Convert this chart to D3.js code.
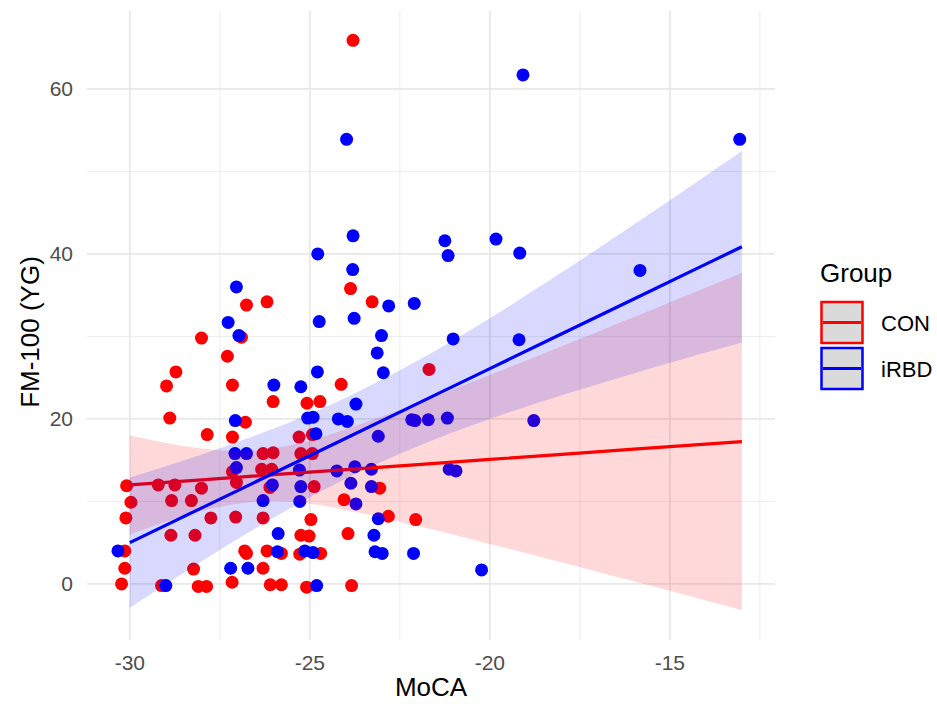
<!DOCTYPE html>
<html>
<head>
<meta charset="utf-8">
<script src="https://cdn.jsdelivr.net/npm/d3@7"></script>
<style>
  body { margin: 0; background: #fff; }
  svg { display: block; font-family: "Liberation Sans", Arial, sans-serif; }
</style>
</head>
<body>
<svg id="chart" width="937" height="704"></svg>
<script>
// scatter points (jittered)
const conMoca = [-23.80,-23.87,-23.27,-26.76,-26.19,-28.01,-26.90,-27.29,-28.72,-28.98,-27.15,-24.13,-26.02,-25.08,-24.72,-21.69,
  -28.89,-26.79,-27.85,-27.15,-25.30,-24.93,-26.30,-26.02,-25.25,-24.93,-27.15,-26.34,-26.06,-27.04,-26.11,-24.88,-23.06,
  -30.09,-29.21,-28.75,-28.01,-29.97,-28.84,-28.29,-24.05,-30.11,-27.75,-27.06,-26.30,-24.97,-22.82,-22.06,-28.86,-28.19,
  -25.25,-25.02,-23.94,-30.14,-26.81,-26.76,-26.19,-25.79,-25.28,-24.70,-30.14,-28.23,-26.30,-30.23,-29.12,-28.10,-27.87,
  -27.16,-26.10,-25.79,-25.09,-23.84];
const conFm = [65.9,35.8,34.2,33.8,34.2,29.8,29.9,27.6,25.7,24.0,24.1,24.2,22.1,21.9,22.1,26.0,
  20.1,19.6,18.1,17.8,17.8,18.1,15.8,15.9,15.8,15.8,13.6,13.9,13.9,12.3,11.7,11.8,11.6,
  11.9,12.0,12.0,11.6,9.9,10.1,10.1,10.2,8.0,8.0,8.1,8.0,7.8,8.2,7.8,5.9,5.9,
  5.9,5.8,6.1,4.0,4.0,3.7,4.0,3.7,3.6,3.7,1.9,1.8,1.9,0.0,-0.2,-0.3,-0.3,
  0.2,-0.1,-0.1,-0.4,-0.2];
const irbdMoca = [-19.08,-23.98,-13.06,-23.80,-21.25,-19.83,-24.78,-23.81,-21.16,-19.17,-15.83,-27.04,-22.81,-22.10,-27.27,
  -24.74,-23.77,-26.97,-23.01,-21.02,-19.19,-23.13,-22.96,-24.79,-26.00,-25.25,-23.72,-27.07,-25.06,-24.91,-24.21,-23.96,
  -22.17,-22.08,-21.71,-21.18,-18.78,-24.83,-23.10,-27.08,-26.76,-27.04,-25.29,-24.25,-23.75,-23.29,-21.13,-20.94,-26.04,
  -25.25,-23.86,-23.29,-26.30,-25.28,-23.72,-23.10,-25.88,-23.22,-25.90,-25.14,-24.91,-23.19,-22.99,-22.12,-30.33,-27.20,
  -26.72,-20.23,-29.00,-24.81];
const irbdFm = [61.7,53.9,53.9,42.2,41.6,41.8,40.0,38.1,39.8,40.1,38.0,36.0,33.7,34.0,31.7,
  31.8,32.2,30.1,30.1,29.7,29.6,28.0,25.6,25.7,24.1,23.9,21.8,19.8,20.1,20.2,20.0,19.7,
  19.9,19.8,19.9,20.1,19.8,18.2,17.9,15.8,15.8,14.1,13.8,13.7,14.2,13.9,13.9,13.7,12.0,
  11.8,12.2,11.8,10.1,10.0,9.7,7.9,6.1,5.9,3.9,4.0,3.8,3.9,3.7,3.7,4.0,1.9,
  1.9,1.7,-0.2,-0.2];

// linear fits with 95% bands
const fitX = [-30,-28,-26,-24,-22,-20,-18,-16,-14,-13];
const conFit = [12.0,12.62,13.24,13.85,14.47,15.09,15.71,16.33,16.94,17.25];
const conLo = [6.0,8.84,10.04,8.95,7.02,4.85,2.60,0.31,-2.02,-3.18];
const conHi = [18.0,16.40,16.44,18.75,21.92,25.33,28.82,32.35,35.90,37.68];
const irbdFit = [5.0,9.22,13.44,17.66,21.88,26.1,30.32,34.54,38.76,40.87];
const irbdLo = [-2.9,2.74,8.04,12.74,16.69,19.99,22.87,25.52,28.04,29.27];
const irbdHi = [12.9,15.70,18.84,22.58,27.07,32.21,37.77,43.56,49.48,52.47];

const xTicks = [-30,-25,-20,-15];
const xMinor = [-27.5,-22.5,-17.5,-12.5];
const yTicks = [0,20,40,60];
const yMinor = [10,30,50];
const groups = ["CON","iRBD"];
const colors = {CON: "#ff0000", iRBD: "#0000ff"};

const svg = d3.select("#chart");
const x = d3.scaleLinear().domain([-31.19, -12.08]).range([87, 775]);
const y = d3.scaleLinear().domain([-6.8, 69.5]).range([640, 10.6]);

// grid
const grid = svg.append("g");
grid.selectAll(".xmin").data(xMinor).join("line")
  .attr("x1", d => x(d)).attr("x2", d => x(d)).attr("y1", 10.6).attr("y2", 640)
  .attr("stroke", "#ebebeb").attr("stroke-width", 0.9);
grid.selectAll(".ymin").data(yMinor).join("line")
  .attr("x1", 87).attr("x2", 775).attr("y1", d => y(d)).attr("y2", d => y(d))
  .attr("stroke", "#ebebeb").attr("stroke-width", 0.9);
grid.selectAll(".xmaj").data(xTicks).join("line")
  .attr("x1", d => x(d)).attr("x2", d => x(d)).attr("y1", 10.6).attr("y2", 640)
  .attr("stroke", "#e8e8e8").attr("stroke-width", 1.8);
grid.selectAll(".ymaj").data(yTicks).join("line")
  .attr("x1", 87).attr("x2", 775).attr("y1", d => y(d)).attr("y2", d => y(d))
  .attr("stroke", "#e8e8e8").attr("stroke-width", 1.8);

// tick labels
svg.selectAll(".xl").data(xTicks).join("text")
  .attr("x", d => x(d)).attr("y", 670).attr("text-anchor", "middle")
  .attr("font-size", 21).attr("fill", "#4d4d4d").text(d => d);
svg.selectAll(".yl").data(yTicks).join("text")
  .attr("x", 73).attr("y", d => y(d) + 7.5).attr("text-anchor", "end")
  .attr("font-size", 21).attr("fill", "#4d4d4d").text(d => d);

// points
const pts = conMoca.map((v, i) => ({g: "CON", x: v, y: conFm[i]}))
  .concat(irbdMoca.map((v, i) => ({g: "iRBD", x: v, y: irbdFm[i]})));
svg.append("g").selectAll("circle").data(pts).join("circle")
  .attr("cx", d => x(d.x)).attr("cy", d => y(d.y)).attr("r", 6.5)
  .attr("fill", d => colors[d.g]);

// smooths: ribbon then line, per group
const fits = {
  CON: fitX.map((v, i) => ({x: v, f: conFit[i], lo: conLo[i], hi: conHi[i]})),
  iRBD: fitX.map((v, i) => ({x: v, f: irbdFit[i], lo: irbdLo[i], hi: irbdHi[i]}))
};
const area = d3.area().curve(d3.curveNatural)
  .x(d => x(d.x)).y0(d => y(d.lo)).y1(d => y(d.hi));
const line = d3.line().x(d => x(d.x)).y(d => y(d.f));
groups.forEach(g => {
  svg.append("path").datum(fits[g]).attr("d", area)
    .attr("fill", colors[g]).attr("fill-opacity", 0.15);
  svg.append("path").datum(fits[g]).attr("d", line)
    .attr("fill", "none").attr("stroke", colors[g]).attr("stroke-width", 3.2);
});

// axis titles
svg.append("text").attr("x", 431).attr("y", 696).attr("text-anchor", "middle")
  .attr("font-size", 26).attr("fill", "#000").text("MoCA");
svg.append("text").attr("transform", "translate(39,332) rotate(-90)")
  .attr("text-anchor", "middle").attr("font-size", 26).attr("fill", "#000").text("FM-100 (YG)");

// legend
const leg = svg.append("g");
leg.append("text").attr("x", 820).attr("y", 282).attr("font-size", 26).text("Group");
groups.forEach((g, i) => {
  const top = 301 + i * 46;
  leg.append("rect").attr("x", 821.5).attr("y", top + 1).attr("width", 41).attr("height", 41)
    .attr("fill", "#dadada").attr("stroke", colors[g]).attr("stroke-width", 2.5);
  leg.append("line").attr("x1", 823).attr("x2", 861).attr("y1", top + 21.5).attr("y2", top + 21.5)
    .attr("stroke", colors[g]).attr("stroke-width", 3);
  leg.append("text").attr("x", 881).attr("y", top + 30).attr("font-size", 22).text(g);
});
</script>
</body>
</html>
